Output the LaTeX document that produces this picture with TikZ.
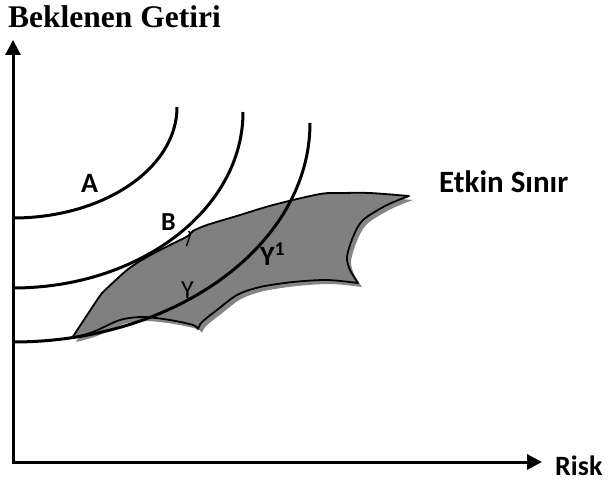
\documentclass[tikz,border=0pt]{standalone}
\usepackage{fontspec}
\setmainfont{Liberation Serif}
\newfontfamily\calibrifont{Carlito}
\usepackage{xcolor}
\usepackage{tikz}
\usetikzlibrary{arrows.meta}
\definecolor{regiongray}{HTML}{808080}
\definecolor{shadowgray}{HTML}{858585}

% outline of the set of portfolios
\newcommand{\regionpath}{(72,338) -- (97,300) -- (102,293)
  -- plot[smooth] coordinates {(102,293) (127,270) (147,257) (170,245) (188,236) (193,231) (207,225) (240,215) (273,205) (320,194) (343,193) (370,193) (409,196)}
  -- plot[smooth] coordinates {(409,196) (387,205) (363,220) (353,237) (347,257) (350,270) (358,283)}
  -- plot[smooth] coordinates {(358,283) (327,280) (293,282) (260,287) (237,295) (217,310) (202,322) (198,329)}
  -- plot[smooth] coordinates {(198,329) (193,325) (170,320) (143,317) (120,320) (93,332) (72,338)}
  -- cycle}

\begin{document}
\begin{tikzpicture}[
    x=1pt,y=-1pt,
    axis/.style={line width=3pt,line join=miter,
      {Triangle[length=15pt,width=15pt]}-{Triangle[length=15pt,width=15pt]}},
    curve/.style={line width=3pt},
    region/.style={fill=regiongray,draw=black,line width=1.8pt,line join=round},
    shade/.style={fill=shadowgray},
    title/.style={font=\bfseries\fontsize{31.5}{33}\selectfont,inner sep=0pt,anchor=base west},
    tag/.style={font=\calibrifont\bfseries\fontsize{28}{30}\selectfont,inner sep=0pt,anchor=base west},
  ]
  \useasboundingbox (0,0) rectangle (608,484);
  \coordinate (O) at (13,462);
  \coordinate (ytop) at (13,40);
  \coordinate (xend) at (542,462);
  \draw[axis] (ytop) |- (xend);
  \node[title] (getiri) at (8,28) {Beklenen Getiri};
  \node[tag] (risk) at (555,475) {Risk};
  \node[tag,font=\calibrifont\bfseries\fontsize{31}{33}\selectfont] (etkin) at (439,193) {Etkin Sınır};
  % portfolio region with its shadow
  \fill[shade,shift={(4,4)}] \regionpath;
  \path[region] \regionpath;
  % indifference curves
  \draw[curve] (177,107) arc[start angle=0,end angle=90,x radius=164,y radius=111];
  \draw[curve] (243,112) arc[start angle=0,end angle=90,x radius=230,y radius=176];
  \draw[curve] (310,123) arc[start angle=0,end angle=90,x radius=297,y radius=219];
  \draw[line width=1.4pt] (186.5,246) -- (190.5,234) -- (188.5,231) (190.5,234) -- (194,230);
  \node[tag] (A) at (81,193) {A};
  \node[tag,font=\calibrifont\bfseries\fontsize{26}{28}\selectfont] (B) at (161,230) {B};
  \node[tag,font=\calibrifont\fontsize{26}{28}\selectfont] (Y) at (181,298) {Y};
  \node[tag] (Y1) at (260,265) {Y\textsuperscript{1}};
\end{tikzpicture}
\end{document}
